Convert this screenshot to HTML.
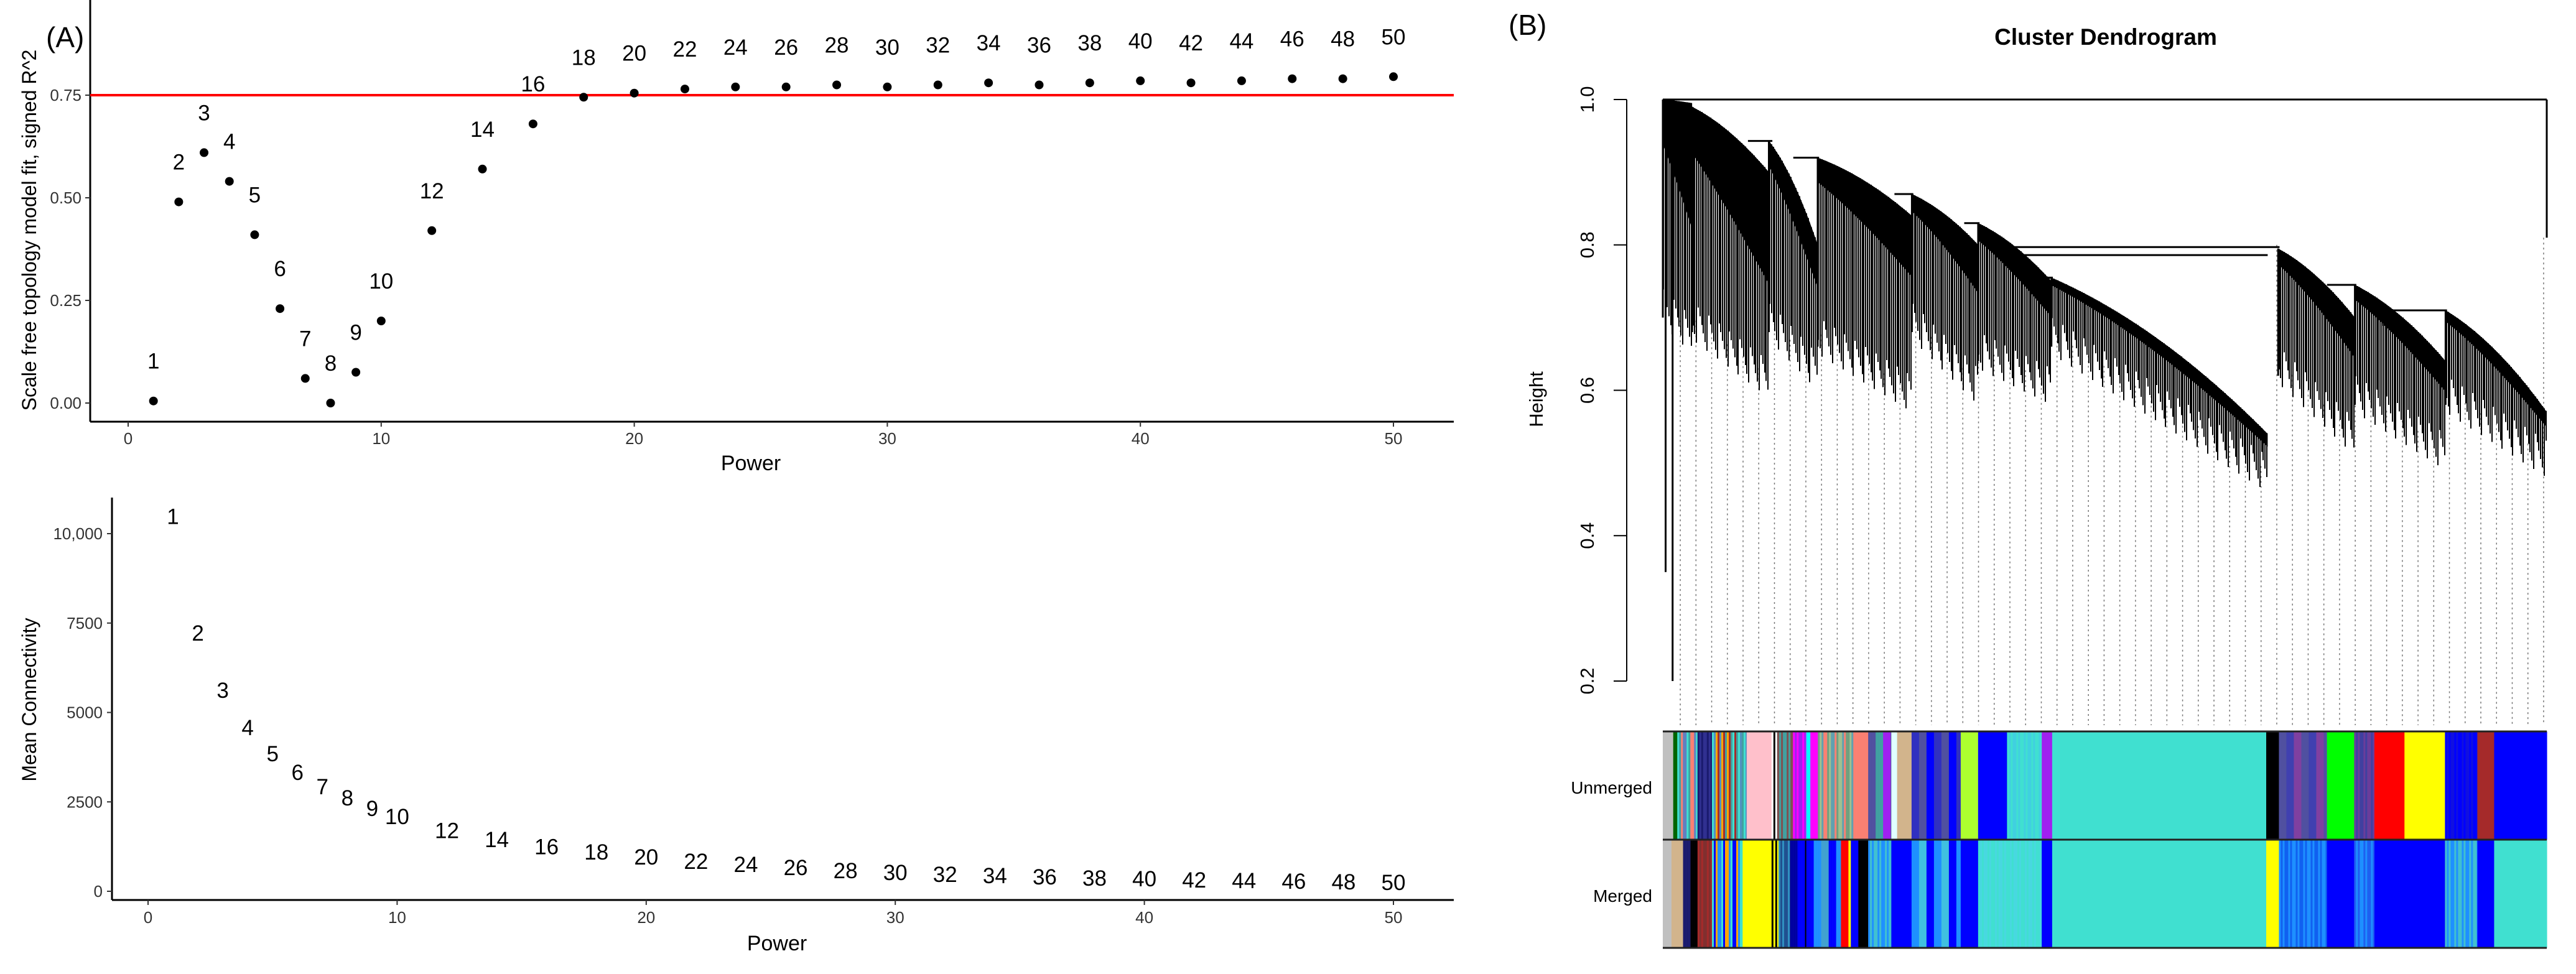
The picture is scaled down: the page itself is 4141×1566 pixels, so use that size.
<!DOCTYPE html>
<html><head><meta charset="utf-8"><style>
html,body{margin:0;padding:0;background:#fff}
svg{display:block}
text{font-family:"Liberation Sans",sans-serif}
</style></head><body>
<svg id="s" width="4141" height="1566" viewBox="0 0 4141 1566" xmlns="http://www.w3.org/2000/svg">
<g id="gA"></g>
<g id="gB"></g>
</svg>
<script>
// ---------- Panel A data ----------
const powers = [1,2,3,4,5,6,7,8,9,10,12,14,16,18,20,22,24,26,28,30,32,34,36,38,40,42,44,46,48,50];
const r2Values = [0.005,0.49,0.61,0.54,0.41,0.23,0.06,0.0,0.075,0.20,0.42,0.57,0.68,0.745,0.755,0.765,0.77,0.77,0.775,0.77,0.775,0.78,0.775,0.78,0.785,0.78,0.785,0.79,0.79,0.795];
const connValues = [10480,7220,5620,4570,3840,3320,2920,2610,2310,2090,1700,1440,1240,1100,960,835,750,660,575,520,470,435,400,365,350,315,295,280,260,245];
const r2Ticks = [0,0.25,0.5,0.75];
const r2TickLabels = ["0.00","0.25","0.50","0.75"];
const connTicks = [0,2500,5000,7500,10000];
const connTickLabels = ["0","2500","5000","7500","10,000"];
const xTicks = [0,10,20,30,40,50];
const threshold = 0.75;

// ---------- Panel B data ----------
const heightTicks = [0.2,0.4,0.6,0.8,1.0];
const heightTickLabels = ["0.2","0.4","0.6","0.8","1.0"];
// clusters: [x0,x1 (zoom units), top0, top1, bot0, bot1, tip]
const clusters = [
 [258,300,1.0,0.995,0.72,0.68,0.66],
 [300,410,0.99,0.90,0.70,0.62,0.59],
 [410,480,0.943,0.80,0.70,0.63,0.61],
 [480,615,0.92,0.84,0.68,0.60,0.57],
 [615,710,0.87,0.80,0.70,0.61,0.59],
 [710,815,0.83,0.75,0.66,0.61,0.59],
 [815,1125,0.755,0.54,0.68,0.49,0.475],
 [1140,1250,0.795,0.70,0.64,0.54,0.52],
 [1250,1380,0.745,0.64,0.60,0.52,0.50],
 [1380,1525,0.71,0.57,0.60,0.51,0.49]
];
const mergeLines = [[258,1525,1.0],[760,1142,0.797],[760,1125,0.786],[380,415,0.943],[445,482,0.92],[590,617,0.87],[690,712,0.83],[800,817,0.755],[1210,1252,0.745],[1290,1382,0.71],[1290,1325,0.69]];
const unmerged = [
 [10,28,["#c0c0c0"]],[28,35,["#006400"]],[35,70,["#40e0d0","#6080c0","#fa8072","#40a0a0"]],[70,95,["#1a1a6e","#303090"]],
 [95,155,["#40e0d0","#ffa500","#40a0a0","#5090c0","#a52a2a"]],[155,198,["#ffc0cb"]],[198,208,["#ffffff","#000000"]],
 [208,235,["#805050","#40a0a0"]],[235,258,["#ff00ff","#a020f0"]],[258,265,["#00ffff"]],[265,278,["#ff00ff"]],
 [278,345,["#70a080","#fa8072","#60a0b0","#a0c090"]],[345,365,["#fa8072"]],[365,405,["#5050a0","#40a0a0","#a020f0"]],
 [405,415,["#e0ffff"]],[415,440,["#d2b48c"]],[440,525,["#3030c0","#5050a0","#0000ff"]],[525,555,["#adff2f"]],
 [555,605,["#0000ff"]],[605,665,["#40e0d0","#40d0e0"]],[665,683,["#a020f0"]],[683,1053,["#40e0d0"]],[1053,1075,["#000000"]],
 [1075,1158,["#5050a0","#4040b0","#8040a0"]],[1158,1205,["#00ff00"]],[1205,1240,["#6a3d9a","#4040a0"]],[1240,1292,["#ff0000"]],
 [1292,1362,["#ffff00"]],[1362,1418,["#0000ff","#1010e0"]],[1418,1447,["#a52a2a"]],[1447,1538,["#0000ff"]]
];
const merged = [
 [10,25,["#c0c0c0"]],[25,45,["#d2b48c"]],[45,70,["#1a1a6e","#000000","#5050a0"]],[70,95,["#a52a2a","#803030"]],
 [95,148,["#40e0d0","#1e90ff","#ffa500","#0000ff"]],[148,198,["#ffff00"]],[198,210,["#000000","#ffff00"]],
 [210,230,["#3090c0","#205090"]],[230,258,["#0000a0","#0000ff","#000000"]],[258,318,["#0000ff","#1e90ff","#40a0d0"]],
 [318,335,["#ff0000","#ffff00","#0000ff"]],[335,348,["#0000ff"]],[348,365,["#000000"]],[365,405,["#1e90ff","#40c0d0"]],
 [405,440,["#0000ff"]],[440,525,["#1e90ff","#40c0e0","#0000ff"]],[525,555,["#0000ff"]],[555,665,["#40e0d0","#48d8e0"]],
 [665,683,["#0000ff"]],[683,1053,["#40e0d0"]],[1053,1075,["#ffff00"]],[1075,1158,["#1e90ff","#1060f0"]],[1158,1205,["#0000ff"]],
 [1205,1240,["#1e60f0","#1e90ff"]],[1240,1362,["#0000ff"]],[1362,1418,["#40c0d0","#1e90ff"]],[1418,1447,["#0000ff"]],[1447,1538,["#40e0d0"]]
];

const NS="http://www.w3.org/2000/svg";
function mk(parent,tag,attrs,txt){const e=document.createElementNS(NS,tag);for(const k in attrs)e.setAttribute(k,attrs[k]);if(txt!==undefined)e.textContent=txt;parent.appendChild(e);return e;}
const gA=document.getElementById('gA'), gB=document.getElementById('gB');

// ---- Top A ----
const xA=v=>206+v*(2240-206)/50;
const yA=v=>648-v*(648-153)/0.75;
let e;
e=mk(gA,'text',{x:74,y:76,'font-size':46},'(A)');


e=mk(gA,'line',{x1:145,y1:0,x2:145,y2:678,stroke:'#000','stroke-width':3});


e=mk(gA,'line',{x1:145,y1:678,x2:2337,y2:678,stroke:'#000','stroke-width':3});


r2Ticks.forEach((t,i)=>{
 mk(gA,'line',{x1:137,y1:yA(t),x2:145,y2:yA(t),stroke:'#333','stroke-width':2});
 e=mk(gA,'text',{x:131,y:yA(t)+9,'font-size':26,'text-anchor':'end',fill:'#333'},r2TickLabels[i]);
 
 
});
xTicks.forEach(t=>{
 mk(gA,'line',{x1:xA(t),y1:678,x2:xA(t),y2:686,stroke:'#333','stroke-width':2});
 e=mk(gA,'text',{x:xA(t),y:714,'font-size':26,'text-anchor':'middle',fill:'#333'},String(t));
 
 
});
e=mk(gA,'text',{x:1207,y:756,'font-size':34,'text-anchor':'middle'},'Power');


e=mk(gA,'text',{x:0,y:0,'font-size':32,'text-anchor':'middle',transform:'translate(58,370) rotate(-90)'},'Scale free topology model fit, signed R^2');


e=mk(gA,'line',{x1:145,y1:yA(threshold),x2:2337,y2:yA(threshold),stroke:'#ff0000','stroke-width':4});


powers.forEach((p,i)=>{
 e=mk(gA,'ellipse',{cx:xA(p),cy:yA(r2Values[i]),rx:7,ry:7,fill:'#000'});
 
 
 e=mk(gA,'text',{x:xA(p),y:yA(r2Values[i])-52,'font-size':35,'text-anchor':'middle'},String(p));
 
 
});

// ---- Bottom A ----
const xC=v=>238+v*(2240-238)/50;
const yC=v=>1433-v*(1433-858)/10000;
e=mk(gA,'line',{x1:180,y1:800,x2:180,y2:1447,stroke:'#000','stroke-width':3});


e=mk(gA,'line',{x1:180,y1:1447,x2:2337,y2:1447,stroke:'#000','stroke-width':3});


connTicks.forEach((t,i)=>{
 mk(gA,'line',{x1:172,y1:yC(t),x2:180,y2:yC(t),stroke:'#333','stroke-width':2});
 e=mk(gA,'text',{x:165,y:yC(t)+9,'font-size':26,'text-anchor':'end',fill:'#333'},connTickLabels[i]);
 
 
});
xTicks.forEach(t=>{
 mk(gA,'line',{x1:xC(t),y1:1447,x2:xC(t),y2:1455,stroke:'#333','stroke-width':2});
 e=mk(gA,'text',{x:xC(t),y:1484,'font-size':26,'text-anchor':'middle',fill:'#333'},String(t));
 
 
});
e=mk(gA,'text',{x:1249,y:1528,'font-size':34,'text-anchor':'middle'},'Power');


e=mk(gA,'text',{x:0,y:0,'font-size':32,'text-anchor':'middle',transform:'translate(58,1125) rotate(-90)'},'Mean Connectivity');


powers.forEach((p,i)=>{
 e=mk(gA,'text',{x:xC(p),y:yC(connValues[i])+12,'font-size':35,'text-anchor':'middle'},String(p));
 
 
});

// ---- Panel B ----
const zx=v=>2383.7+v*1.1215;        // dendrogram x (zoom units)
const bx=v=>2663.7+v*0.930;         // color bar x
const yH=h=>160+(1-h)*(1095-160)/0.8;
e=mk(gB,'text',{x:2425,y:56,'font-size':46},'(B)');


e=mk(gB,'text',{x:3385,y:72,'font-size':37,'font-weight':'bold','text-anchor':'middle'},'Cluster Dendrogram');


e=mk(gB,'line',{x1:2615,y1:yH(1.0),x2:2615,y2:yH(0.2),stroke:'#000','stroke-width':2});


heightTicks.forEach((t,i)=>{
 mk(gB,'line',{x1:2594,y1:yH(t),x2:2615,y2:yH(t),stroke:'#000','stroke-width':2});
 e=mk(gB,'text',{x:0,y:0,'font-size':31,'text-anchor':'middle',transform:`translate(2562,${yH(t)}) rotate(-90)`},heightTickLabels[i]);
 
 
});
e=mk(gB,'text',{x:0,y:0,'font-size':31,'text-anchor':'middle',transform:'translate(2480,642) rotate(-90)'},'Height');



function clusterAt(x){for(const c of clusters){if(x>=c[0]&&x<=c[1])return c;}return null;}
function topH(c,t){return c[2]+(c[3]-c[2])*(t*t*0.4+t*0.6);}
// dotted leaf lines
for(let x=283;x<=1525;x+=22.5){
 const c=clusterAt(x);let h=0.8;
 if(c){const t=(x-c[0])/(c[1]-c[0]);h=c[4]+(c[5]-c[4])*t;}
 if(x>1500)h=0.81;
 e=mk(gB,'line',{x1:zx(x),y1:yH(h),x2:zx(x),y2:1166,stroke:'#777','stroke-width':1.5,'stroke-dasharray':'3 5'});
 
 
}
// clusters
clusters.forEach((c,ci)=>{
 const [x0,x1,t0,t1,b0,b1,tip]=c;
 const g=mk(gB,'g',{});
 
 
 const n=24;let pts=[];
 const depth=ci<2?0.55:0.35;
 for(let k=0;k<=n;k++){const t=k/n;const x=x0+(x1-x0)*t;pts.push([zx(x),yH(topH(c,t))]);}
 pts.push([zx(x1),yH(tip)]);
 for(let k=n;k>=0;k--){const t=k/n;const x=x0+(x1-x0)*t;const tp=topH(c,t);const bt=b0+(b1-b0)*t;pts.push([zx(x),yH(tp-(tp-bt)*depth*(0.4+0.6*t))]);}
 mk(g,'polygon',{points:pts.map(p=>p.join(',')).join(' '),fill:'#000'});
 // hanging hairlines
 const m=Math.max(8,Math.round((x1-x0)/2.5));
 for(let k=0;k<m;k++){const t=(k+0.5)/m;const x=x0+(x1-x0)*t;
  const tp=topH(c,t);const base=b0+(b1-b0)*t;const drop=((k*7+ci*3)%6)*0.01-0.02;
  mk(g,'line',{x1:Math.round(zx(x)),y1:yH(tp),x2:Math.round(zx(x)),y2:yH(base-drop),stroke:'#000','stroke-width':2,'shape-rendering':'crispEdges'});}
 mk(g,'line',{x1:zx(x0),y1:yH(t0),x2:zx(x0),y2:yH(b0-0.02),stroke:'#000','stroke-width':3});
});
mergeLines.forEach(m=>{
 e=mk(gB,'line',{x1:zx(m[0]),y1:yH(m[2]),x2:zx(m[1]),y2:yH(m[2]),stroke:'#000','stroke-width':3});
 
 
});
e=mk(gB,'line',{x1:zx(1525),y1:yH(1.0),x2:zx(1525),y2:yH(0.81),stroke:'#000','stroke-width':3});


e=mk(gB,'line',{x1:zx(262),y1:yH(1.0),x2:zx(262),y2:yH(0.35),stroke:'#000','stroke-width':3});


e=mk(gB,'line',{x1:zx(272),y1:yH(1.0),x2:zx(272),y2:yH(0.2),stroke:'#000','stroke-width':3});



// color bars
function drawBar(segs,y0,y1,name){
 const g=mk(gB,'g',{});
 
 
 segs.forEach(s=>{
  const xs=bx(s[0]),xe=bx(s[1]),cols=s[2];
  if(cols.length===1){mk(g,'rect',{x:xs,y:y0,width:xe-xs+0.5,height:y1-y0,fill:cols[0]});}
  else{const w=3;let k=0;for(let x=xs;x<xe;x+=w,k++){mk(g,'rect',{x:x,y:y0,width:Math.min(w,xe-x)+0.3,height:y1-y0,fill:cols[(k*3+(k>>2))%cols.length]});}}
 });
}
drawBar(unmerged,1176,1350,'unmerged-color-bar');
drawBar(merged,1350,1524,'merged-color-bar');
[1176,1350,1524].forEach(y=>{mk(gB,'line',{x1:bx(10),y1:y,x2:bx(1538),y2:y,stroke:'#222','stroke-width':3});});
e=mk(gB,'text',{x:2656,y:1276,'font-size':28,'text-anchor':'end'},'Unmerged');


e=mk(gB,'text',{x:2656,y:1450,'font-size':28,'text-anchor':'end'},'Merged');


</script>
</body></html>
